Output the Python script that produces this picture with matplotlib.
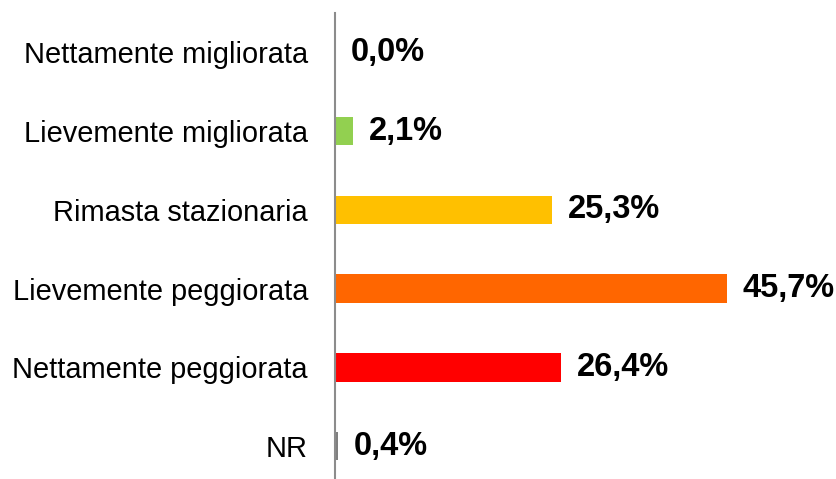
import matplotlib.pyplot as plt

categories = ["Nettamente migliorata", "Lievemente migliorata", "Rimasta stazionaria",
              "Lievemente peggiorata", "Nettamente peggiorata", "NR"]
values = [0.0, 2.1, 25.3, 45.7, 26.4, 0.4]
colors = ["#92D050", "#92D050", "#FFC000", "#FF6600", "#FF0000", "#808080"]

plt.rcParams['font.family'] = ['Liberation Sans', 'DejaVu Sans']

fig = plt.figure(figsize=(8.36, 4.79), dpi=100)
ax = fig.add_axes([0.4007, -0.0138, 0.5993, 0.987])

y = list(range(len(categories)))
ax.barh(y, values, height=0.36, color=colors)
ax.set_xlim(0, 58.4)
ax.set_ylim(len(categories) - 0.5, -0.5)

for yi, v in zip(y, values):
    ax.text(v + 1.8, yi, f"{v:.1f}%".replace(".", ","), va="center", ha="left",
            fontsize=23.5, fontweight="bold")

ax.set_yticks(y)
ax.set_yticklabels(categories, fontsize=20.9)
ax.tick_params(axis="y", length=0, pad=19.5)
ax.set_xticks([])
for s in ["top", "right", "bottom"]:
    ax.spines[s].set_visible(False)
ax.spines["left"].set_color("#8C8C8C")
ax.spines["left"].set_linewidth(1.5)

fig.savefig("out.png", dpi=100)
